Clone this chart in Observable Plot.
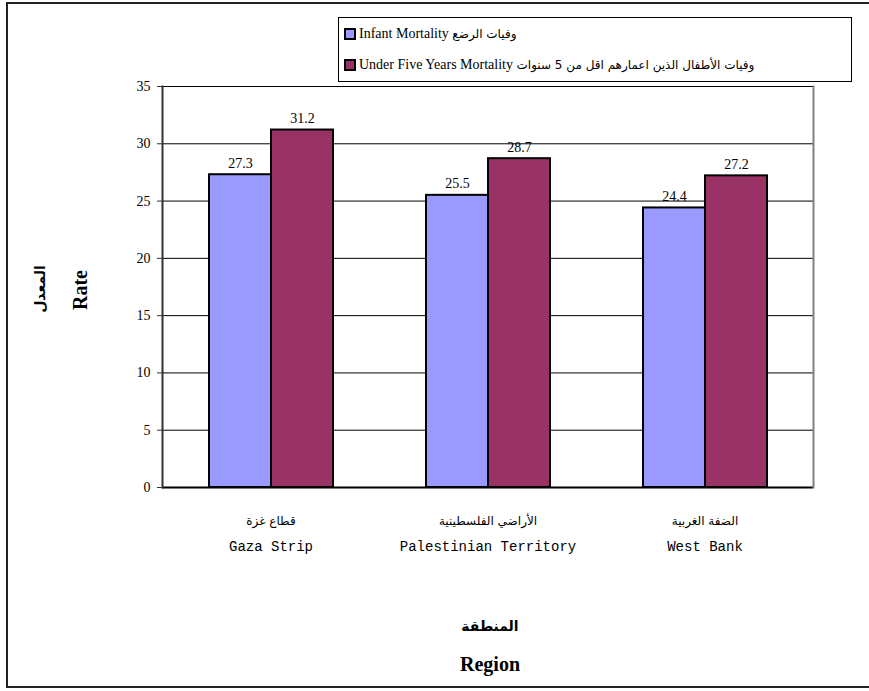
<!DOCTYPE html>
<html>
<head>
<meta charset="utf-8">
<script src="https://cdn.jsdelivr.net/npm/d3@7"></script>
<script src="https://cdn.jsdelivr.net/npm/@observablehq/plot@0.6"></script>
<style>
  html, body { margin: 0; padding: 0; background: #fff; }
  #wrap { position: relative; width: 869px; height: 691px; overflow: hidden; font-family: "Liberation Serif", "DejaVu Sans", serif; }
  #chart { position: absolute; left: 0; top: 0; }
  #border { position: absolute; left: 6px; top: 2px; width: 880px; height: 686px; border-left: 2px solid #222; border-top: 2px solid #222; border-bottom: 2px solid #222; box-sizing: border-box; pointer-events: none; }
  #legend { position: absolute; left: 338px; top: 17px; width: 514px; height: 65px; border: 1px solid #000; box-sizing: border-box; background: #fff; }
  .row { position: absolute; left: 5px; display: flex; align-items: center; white-space: nowrap; font-size: 14px; color: #000; }
  .sw { width: 8px; height: 8px; border: 2px solid #000; margin-right: 3px; }
  .ar { font-family: "DejaVu Sans", sans-serif; font-size: 12px; }
  .ytitle { position: absolute; transform: translate(-50%, -50%) rotate(-90deg); white-space: nowrap; font-weight: bold; color: #000; }
  .xtitle { position: absolute; transform: translate(-50%, -50%); white-space: nowrap; font-weight: bold; color: #000; }
</style>
</head>
<body>
<div id="wrap">
  <div id="chart"></div>
  <div id="border"></div>
  <div id="legend"></div>
  <div class="ytitle" style="left:40px; top:289px; font-family:'DejaVu Sans',sans-serif; font-size:14px;">المعدل</div>
  <div class="ytitle" style="left:80px; top:290px; font-size:20px;">Rate</div>
  <div class="xtitle" style="left:490px; top:626px; font-family:'DejaVu Sans',sans-serif; font-size:14px;">المنطقة</div>
  <div class="xtitle" style="left:490px; top:664px; font-size:20px;">Region</div>
</div>
<script>
const regionsEn = ["Gaza Strip", "Palestinian Territory", "West Bank"];
const regionsAr = ["قطاع غزة", "الأراضي الفلسطينية", "الضفة الغربية"];
const seriesEn = ["Infant Mortality", "Under Five Years Mortality"];
const seriesAr = ["وفيات الرضع", "وفيات الأطفال الذين اعمارهم اقل من 5 سنوات"];
const infantMortality = [27.3, 25.5, 24.4];
const underFiveMortality = [31.2, 28.7, 27.2];
const yTicks = [0, 5, 10, 15, 20, 25, 30, 35];
const colors = ["#9999FF", "#993366"];

const data = regionsEn.flatMap((r, i) => [
  {region: r, series: seriesEn[0], value: infantMortality[i]},
  {region: r, series: seriesEn[1], value: underFiveMortality[i]}
]);

const serif = "'Liberation Serif', 'DejaVu Sans', serif";

const chart = Plot.plot({
  width: 869,
  height: 691,
  marginLeft: 162,
  marginRight: 56,
  marginTop: 86,
  marginBottom: 204,
  style: {fontFamily: serif, fontSize: "14px", background: "transparent", color: "#000"},
  fx: {domain: regionsEn, padding: 0, axis: null},
  x: {domain: seriesEn, paddingInner: 0, paddingOuter: 0.736, axis: null},
  y: {domain: [0, 35], axis: null},
  color: {domain: seriesEn, range: colors},
  marks: [
    Plot.gridY(yTicks, {stroke: "#000", strokeOpacity: 1, strokeWidth: 1}),
    Plot.barY(data, {fx: "region", x: "series", y: "value", fill: "series", stroke: "#000", strokeWidth: 2, inset: 0}),
    Plot.text(data, {fx: "region", x: "series", y: "value", text: d => d.value.toFixed(1), dy: -7, lineAnchor: "bottom", fontSize: 14, fill: "#000"}),
    Plot.axisY(yTicks, {tickSize: 5, tickPadding: 7, fontSize: 14, label: null, stroke: "#333"}),
    Plot.ruleY([0], {stroke: "#000", strokeWidth: 2}),
    Plot.frame({anchor: "left", facetAnchor: "left", stroke: "#333", strokeWidth: 2}),
    Plot.frame({anchor: "right", facetAnchor: "right", stroke: "#808080", strokeWidth: 2}),
    Plot.text(regionsEn, {fx: d => d, text: (d, i) => regionsAr[i], frameAnchor: "bottom", dy: 37, fontSize: 12, fontFamily: "'DejaVu Sans', sans-serif", fill: "#000"}),
    Plot.text(regionsEn, {fx: d => d, text: d => d, frameAnchor: "bottom", dy: 63, fontSize: 14, fontFamily: "'Liberation Mono', 'DejaVu Sans Mono', monospace", fill: "#000"})
  ]
});
document.getElementById("chart").appendChild(chart);

const legend = document.getElementById("legend");
const rowTops = [8, 39];
seriesEn.forEach((s, i) => {
  const row = document.createElement("div");
  row.className = "row";
  row.style.top = rowTops[i] + "px";
  const sw = document.createElement("div");
  sw.className = "sw";
  sw.style.background = colors[i];
  const en = document.createElement("span");
  en.textContent = s + " ";
  en.style.whiteSpace = "pre";
  const ar = document.createElement("span");
  ar.className = "ar";
  ar.textContent = seriesAr[i];
  ar.dir = "rtl";
  row.appendChild(sw);
  row.appendChild(en);
  row.appendChild(ar);
  legend.appendChild(row);
});
</script>
</body>
</html>
